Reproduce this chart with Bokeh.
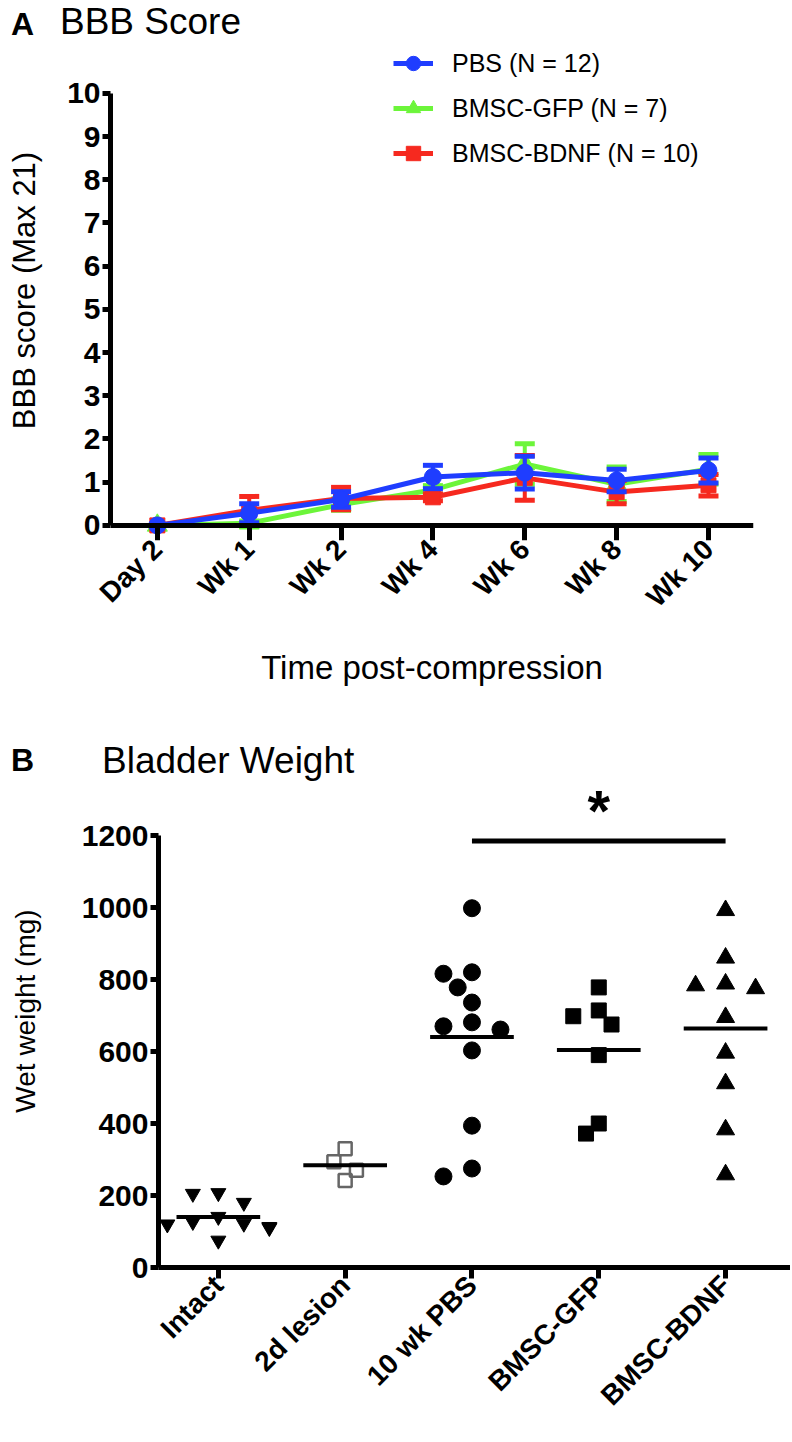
import numpy as np
from bokeh.plotting import figure
from bokeh.models import ColumnDataSource, Legend, LegendItem, FixedTicker, LinearAxis, Div
from bokeh.embed import file_html
from bokeh.resources import INLINE
from bokeh.core.properties import value

FONT = "Liberation Sans"

# ---------------- Panel A data: BBB score ----------------
timepoints = ["Day 2", "Wk 1", "Wk 2", "Wk 4", "Wk 6", "Wk 8", "Wk 10"]
pbs_mean = [0.0, 0.28, 0.60, 1.12, 1.22, 1.04, 1.27]
pbs_sem = [0.0, 0.22, 0.18, 0.27, 0.38, 0.26, 0.29]
gfp_mean = [0.0, 0.05, 0.48, 0.82, 1.42, 0.95, 1.30]
gfp_sem = [0.0, 0.05, 0.13, 0.10, 0.47, 0.40, 0.34]
bdnf_mean = [0.0, 0.35, 0.62, 0.65, 1.10, 0.77, 0.93]
bdnf_sem = [0.0, 0.32, 0.26, 0.08, 0.52, 0.27, 0.25]

# ---------------- Panel B data: bladder wet weight (mg) ----------------
groups = ["Intact", "2d lesion", "10 wk PBS", "BMSC-GFP", "BMSC-BDNF"]
intact_w = [207, 205, 180, 141, 127, 122, 120, 113, 110, 75]
lesion_w = [330, 294, 270, 242]
pbs_w = [998, 820, 816, 778, 736, 681, 670, 661, 603, 394, 275, 253]
gfp_w = [778, 714, 698, 675, 590, 400, 372]
bdnf_w = [992, 860, 788, 783, 775, 695, 596, 511, 383, 258]
sig_from, sig_to, sig_y, sig_text = "10 wk PBS", "BMSC-BDNF", 1185, "*"

BLUE, GREEN, RED = "#1f3dff", "#6cf53a", "#f6291f"
W = 790


def style_axis(ax, label_size, tick_out):
    ax.axis_line_width = 5
    ax.axis_line_color = "black"
    ax.major_tick_line_width = 5
    ax.major_tick_line_color = "black"
    ax.major_tick_out = tick_out
    ax.major_tick_in = 0
    ax.minor_tick_line_color = None
    ax.major_label_text_font = FONT
    ax.major_label_text_font_style = "bold"
    ax.major_label_text_font_size = label_size
    ax.major_label_text_color = "black"
    ax.major_label_standoff = 2
    ax.axis_label_text_font = FONT
    ax.axis_label_text_font_style = "normal"
    ax.axis_label_text_color = "black"


def title_div(letter, title, height, top_letter, top_title, left_title):
    html = (
        f'<div style="position:relative;width:{W}px;height:{height}px;'
        f'font-family:\'{FONT}\';color:black;">'
        f'<span style="position:absolute;left:11px;top:{top_letter}px;'
        f'font-size:32px;font-weight:bold;line-height:normal;">{letter}</span>'
        f'<span style="position:absolute;left:{left_title}px;top:{top_title}px;'
        f'font-size:37px;font-weight:normal;line-height:normal;white-space:nowrap;">{title}</span>'
        '</div>'
    )
    return Div(text=html, width=W, height=height, margin=0)


# ================= Panel A =================
divA = title_div("A", "BBB Score", 40, 6, 1, 60)

HA = 660
A_FRAME_H = 500
A_Y0 = -0.35
A_PPU = 43.2
pA = figure(width=W, height=HA, output_backend="svg", toolbar_location=None,
            x_range=(-0.51, 6.49), y_range=(A_Y0, A_Y0 + A_FRAME_H / A_PPU),
            min_border_left=110, min_border_right=W - 753, min_border_top=0,
            min_border_bottom=HA - A_FRAME_H)
pA.outline_line_color = None
pA.grid.visible = False

xA = np.arange(len(timepoints))
series = [
    ("BMSC-GFP (N = 7)", gfp_mean, gfp_sem, GREEN, "triangle", 20),
    ("BMSC-BDNF (N = 10)", bdnf_mean, bdnf_sem, RED, "square", 15),
    ("PBS (N = 12)", pbs_mean, pbs_sem, BLUE, "circle", 17),
]
items = {}
for name, m, s, col, mk, sz in series:
    m = np.array(m, dtype=float)
    s = np.array(s, dtype=float)
    keep = s > 0
    esrc = ColumnDataSource(dict(x=xA[keep], lo=(m - s)[keep], hi=(m + s)[keep]))
    src = ColumnDataSource(dict(x=xA, y=m))
    pA.segment(x0="x", y0="lo", x1="x", y1="hi", source=esrc, line_color=col, line_width=4)
    pA.scatter(x="x", y="hi", source=esrc, marker="dash", size=20, line_color=col, line_width=5)
    pA.scatter(x="x", y="lo", source=esrc, marker="dash", size=20, line_color=col, line_width=5)
    lr = pA.line(x="x", y="y", source=src, line_color=col, line_width=5)
    sr = pA.scatter(x="x", y="y", source=src, marker=mk, size=sz, fill_color=col, line_color=col)
    items[name] = [lr, sr]

legend = Legend(
    items=[LegendItem(label=n, renderers=items[n])
           for n in ["PBS (N = 12)", "BMSC-GFP (N = 7)", "BMSC-BDNF (N = 10)"]],
    location=(283, 369), glyph_width=40, glyph_height=36, spacing=9, padding=0, margin=0,
    label_standoff=19, label_text_font=FONT, label_text_font_size="25px",
    label_text_color="black",
    border_line_color=None, background_fill_alpha=0)
pA.add_layout(legend)

# labels-only axis at the bottom of the frame
ticksA = [int(i) for i in xA]
pA.xaxis.ticker = FixedTicker(ticks=ticksA)
pA.xaxis.major_label_overrides = {int(i): t for i, t in zip(xA, timepoints)}
pA.xaxis.major_label_orientation = np.pi / 4
pA.xaxis.axis_label = "Time post-compression"
style_axis(pA.xaxis[0], "28px", 0)
pA.xaxis.axis_line_color = None
pA.xaxis.major_tick_line_color = None
pA.xaxis.major_label_standoff = 4
pA.xaxis.axis_label_text_font_size = "33px"
pA.xaxis.axis_label_standoff = 22

# axis line + ticks at y = 0
zero_axis = LinearAxis(fixed_location=0, ticker=FixedTicker(ticks=ticksA))
style_axis(zero_axis, "1px", 15)
zero_axis.major_label_text_color = None
pA.add_layout(zero_axis, "below")

pA.yaxis.ticker = FixedTicker(ticks=list(range(0, 11)))
pA.yaxis.bounds = (0, 10)
pA.yaxis.axis_label = "BBB score (Max 21)"
style_axis(pA.yaxis[0], "30px", 8)
pA.yaxis.axis_label_text_font_size = "31px"
pA.yaxis.axis_label_standoff = 22

# ================= Panel B =================
DIVB_H = 54
divB = title_div("B", "Bladder Weight", DIVB_H, 42, 40, 102)

HB = 1442 - 700 - DIVB_H
B_PPU = 0.36
B_FRAME_H = 1267 - (700 + DIVB_H)
B_LEFT = 158
B_YR = (0, B_FRAME_H / B_PPU)
B_XR = (-0.472, 4.512)
pB = figure(width=W, height=HB, output_backend="svg", toolbar_location=None,
            x_range=B_XR, y_range=B_YR,
            min_border_left=B_LEFT, min_border_right=0, min_border_top=0,
            min_border_bottom=HB - B_FRAME_H)
pB.outline_line_color = None
pB.grid.visible = False
pB.border_fill_color = None
pB.background_fill_color = None

ppy = B_PPU
ppx = (W - B_LEFT) / (B_XR[1] - B_XR[0])


def swarm(vals, marker_px):
    """Beeswarm offsets (in category units) computed from the values."""
    vals = np.asarray(vals, dtype=float)
    step = marker_px * 0.75
    mind = marker_px * 0.95
    order = np.argsort(-vals, kind="stable")
    placed = []
    offs = np.zeros(len(vals))
    cands = [0, -1, 1, -2, 2, -3, 3, -4, 4]
    for i in order:
        oy = vals[i] * ppy
        ox = 0.0
        for c in cands:
            ox = c * step
            if all((ox - px) ** 2 + (oy - py) ** 2 >= mind ** 2 for px, py in placed):
                break
        placed.append((ox, oy))
        offs[i] = ox / ppx
    return offs


group_vals = [intact_w, lesion_w, pbs_w, gfp_w, bdnf_w]
styles = [
    dict(marker="inverted_triangle", size=15, fill_color="black", line_color="black", line_width=1),
    dict(marker="square", size=13, fill_color=None, line_color="#666666", line_width=2.5),
    dict(marker="circle", size=17, fill_color="black", line_color="black", line_width=1),
    dict(marker="square", size=15, fill_color="black", line_color="black", line_width=1),
    dict(marker="triangle", size=18, fill_color="black", line_color="black", line_width=1),
]
for gi, (vals, st) in enumerate(zip(group_vals, styles)):
    offs = swarm(vals, st["size"] + 2)
    src = ColumnDataSource(dict(x=gi + offs, y=vals))
    pB.scatter(x="x", y="y", source=src, **st)
    mean = float(np.mean(vals))
    pB.segment(x0=[gi - 0.33], x1=[gi + 0.33], y0=[mean], y1=[mean],
               line_color="black", line_width=4)

i0, i1 = groups.index(sig_from), groups.index(sig_to)
pB.segment(x0=[i0], x1=[i1], y0=[sig_y], y1=[sig_y], line_color="black", line_width=5)
pB.text(x=[(i0 + i1) / 2], y=[sig_y + 84], text=[sig_text], text_font=value(FONT),
        text_font_style="bold", text_font_size="58px", text_align="center",
        text_baseline="alphabetic", text_color="black")

pB.xaxis.ticker = FixedTicker(ticks=list(range(len(groups))))
pB.xaxis.major_label_overrides = {i: g for i, g in enumerate(groups)}
pB.xaxis.major_label_orientation = np.pi / 4
style_axis(pB.xaxis[0], "28px", 11)

pB.yaxis.ticker = FixedTicker(ticks=list(range(0, 1201, 200)))
pB.yaxis.bounds = (0, 1200)
pB.yaxis.axis_label = "Wet weight (mg)"
style_axis(pB.yaxis[0], "30px", 8)
pB.yaxis.axis_label_text_font_size = "28px"
pB.yaxis.axis_label_standoff = 38

open("out.html", "w").write(file_html([divA, pA, divB, pB], INLINE))
